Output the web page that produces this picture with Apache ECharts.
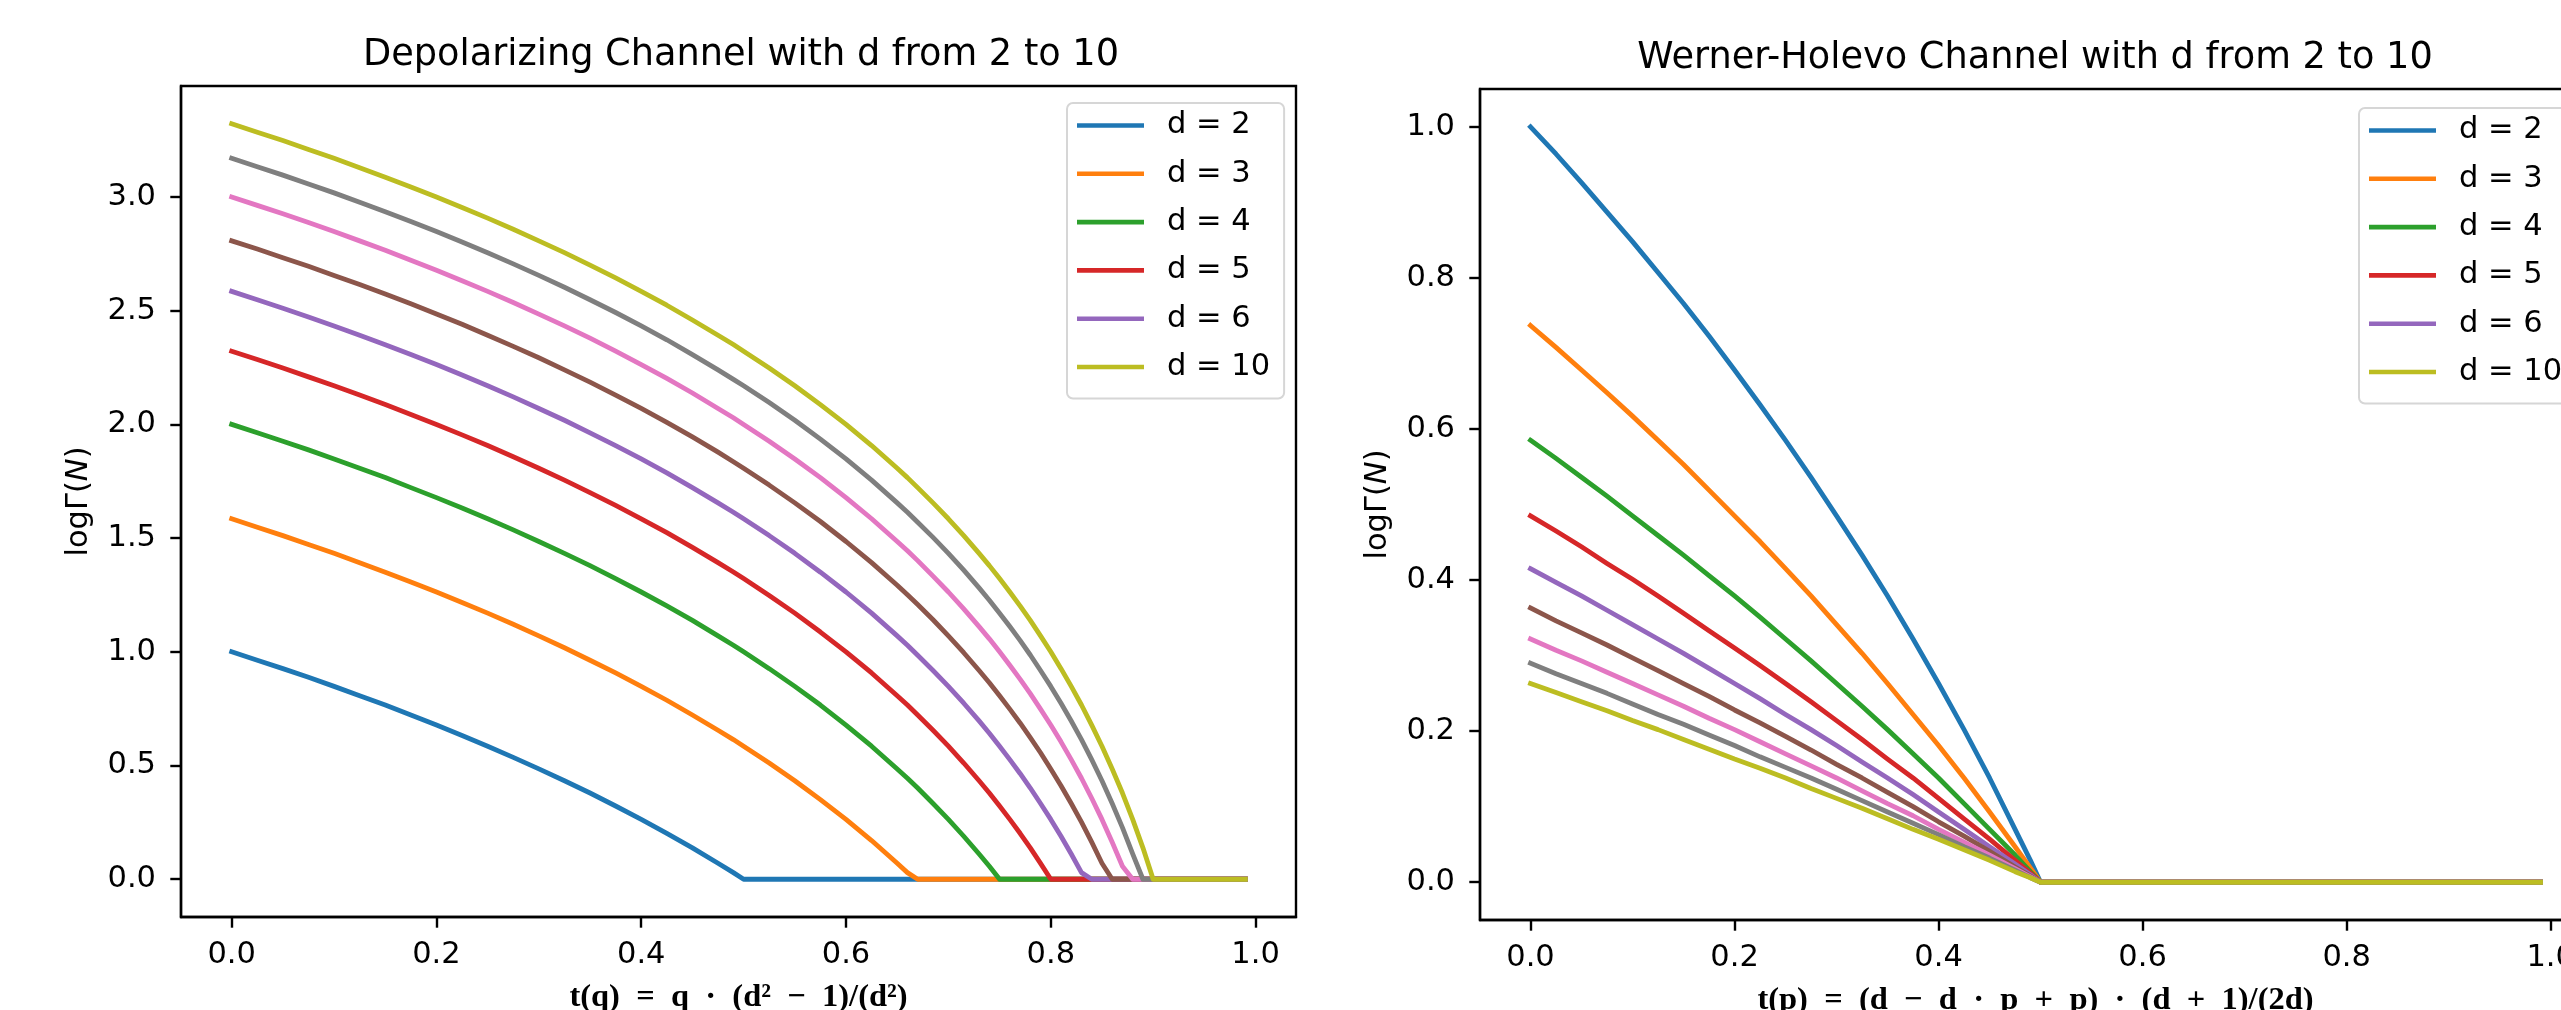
<!DOCTYPE html>
<html>
<head>
<meta charset="utf-8">
<title>Depolarizing / Werner-Holevo</title>
<script src="https://cdn.jsdelivr.net/npm/echarts@6/dist/echarts.min.js"></script>
<style>
    html, body { margin: 0; padding: 0; background: #fff; }
    #main { width: 2561px; height: 1010px; }
</style>
</head>
<body>
<div id="main"></div>
<script>
// sample points along t
var depolT = [0, 0.025, 0.05, 0.075, 0.1, 0.125, 0.15, 0.175, 0.2, 0.225,
    0.25, 0.275, 0.3, 0.325, 0.35, 0.375, 0.4, 0.425, 0.45, 0.475,
    0.49, 0.5, 0.525, 0.55, 0.575, 0.6, 0.625, 0.65, 0.66, 0.67,
    0.685, 0.7, 0.715, 0.73, 0.74, 0.75, 0.76, 0.77, 0.78, 0.79,
    0.8, 0.81, 0.82, 0.83, 0.84, 0.85, 0.86, 0.87, 0.88, 0.89,
    0.9, 0.99];
var depolD2 = [1.000, 0.963, 0.926, 0.888, 0.848, 0.807, 0.766, 0.722, 0.678, 0.632,
    0.585, 0.536, 0.485, 0.433, 0.379, 0.322, 0.263, 0.202, 0.138, 0.070,
    0.029, 0, 0, 0, 0, 0, 0, 0, 0, 0,
    0, 0, 0, 0, 0, 0, 0, 0, 0, 0,
    0, 0, 0, 0, 0, 0, 0, 0, 0, 0,
    0, 0];
var depolD3 = [1.585, 1.548, 1.511, 1.472, 1.433, 1.392, 1.350, 1.307, 1.263, 1.217,
    1.170, 1.121, 1.070, 1.018, 0.963, 0.907, 0.848, 0.787, 0.722, 0.655,
    0.614, 0.585, 0.511, 0.433, 0.350, 0.263, 0.170, 0.070, 0.029, 0,
    0, 0, 0, 0, 0, 0, 0, 0, 0, 0,
    0, 0, 0, 0, 0, 0, 0, 0, 0, 0,
    0, 0];
var depolD4 = [2.000, 1.963, 1.926, 1.888, 1.848, 1.807, 1.766, 1.722, 1.678, 1.632,
    1.585, 1.536, 1.485, 1.433, 1.379, 1.322, 1.263, 1.202, 1.138, 1.070,
    1.029, 1.000, 0.926, 0.848, 0.766, 0.678, 0.585, 0.485, 0.444, 0.401,
    0.333, 0.263, 0.189, 0.111, 0.057, 0, 0, 0, 0, 0,
    0, 0, 0, 0, 0, 0, 0, 0, 0, 0,
    0, 0];
var depolD5 = [2.322, 2.285, 2.248, 2.209, 2.170, 2.129, 2.087, 2.044, 2.000, 1.954,
    1.907, 1.858, 1.807, 1.755, 1.700, 1.644, 1.585, 1.524, 1.459, 1.392,
    1.351, 1.322, 1.248, 1.170, 1.087, 1.000, 0.907, 0.807, 0.766, 0.722,
    0.655, 0.585, 0.511, 0.433, 0.379, 0.322, 0.263, 0.202, 0.138, 0.070,
    0, 0, 0, 0, 0, 0, 0, 0, 0, 0,
    0, 0];
var depolD6 = [2.585, 2.548, 2.511, 2.472, 2.433, 2.392, 2.350, 2.307, 2.263, 2.217,
    2.170, 2.121, 2.070, 2.018, 1.963, 1.907, 1.848, 1.787, 1.722, 1.655,
    1.614, 1.585, 1.511, 1.433, 1.350, 1.263, 1.170, 1.070, 1.029, 0.985,
    0.918, 0.848, 0.774, 0.696, 0.642, 0.585, 0.526, 0.465, 0.401, 0.333,
    0.263, 0.189, 0.111, 0.029, 0, 0, 0, 0, 0, 0,
    0, 0];
var depolD7 = [2.807, 2.771, 2.733, 2.695, 2.655, 2.615, 2.573, 2.530, 2.485, 2.440,
    2.392, 2.343, 2.293, 2.240, 2.186, 2.129, 2.070, 2.009, 1.945, 1.878,
    1.836, 1.807, 1.733, 1.655, 1.573, 1.485, 1.392, 1.293, 1.251, 1.208,
    1.141, 1.070, 0.996, 0.918, 0.864, 0.807, 0.748, 0.687, 0.623, 0.556,
    0.485, 0.411, 0.333, 0.251, 0.163, 0.070, 0, 0, 0, 0,
    0, 0];
var depolD8 = [3.000, 2.963, 2.926, 2.888, 2.848, 2.807, 2.766, 2.722, 2.678, 2.632,
    2.585, 2.536, 2.485, 2.433, 2.379, 2.322, 2.263, 2.202, 2.138, 2.070,
    2.029, 2.000, 1.926, 1.848, 1.766, 1.678, 1.585, 1.485, 1.444, 1.401,
    1.333, 1.263, 1.189, 1.111, 1.057, 1.000, 0.941, 0.880, 0.816, 0.748,
    0.678, 0.604, 0.526, 0.444, 0.356, 0.263, 0.163, 0.057, 0, 0,
    0, 0];
var depolD9 = [3.170, 3.133, 3.096, 3.057, 3.018, 2.977, 2.935, 2.892, 2.848, 2.802,
    2.755, 2.706, 2.655, 2.603, 2.548, 2.492, 2.433, 2.372, 2.307, 2.240,
    2.198, 2.170, 2.096, 2.018, 1.935, 1.848, 1.755, 1.655, 1.614, 1.570,
    1.503, 1.433, 1.359, 1.281, 1.227, 1.170, 1.111, 1.050, 0.986, 0.918,
    0.848, 0.774, 0.696, 0.614, 0.526, 0.433, 0.333, 0.227, 0.111, 0,
    0, 0];
var depolD10 = [3.322, 3.285, 3.248, 3.209, 3.170, 3.129, 3.087, 3.044, 3.000, 2.954,
    2.907, 2.858, 2.807, 2.755, 2.700, 2.644, 2.585, 2.524, 2.459, 2.392,
    2.351, 2.322, 2.248, 2.170, 2.087, 2.000, 1.907, 1.807, 1.766, 1.722,
    1.655, 1.585, 1.511, 1.433, 1.379, 1.322, 1.263, 1.202, 1.138, 1.070,
    1.000, 0.926, 0.848, 0.766, 0.678, 0.585, 0.485, 0.379, 0.263, 0.138,
    0, 0];

var wernerT = [0, 0.025, 0.05, 0.075, 0.1, 0.125, 0.15, 0.175, 0.2, 0.225,
    0.25, 0.275, 0.3, 0.325, 0.35, 0.375, 0.4, 0.425, 0.45, 0.475,
    0.49, 0.5, 0.99];
var wernerD2 = [1.000, 0.964, 0.926, 0.887, 0.848, 0.807, 0.766, 0.723, 0.678, 0.632,
    0.585, 0.536, 0.485, 0.433, 0.379, 0.322, 0.263, 0.202, 0.138, 0.070,
    0.029, 0, 0];
var wernerD3 = [0.737, 0.708, 0.678, 0.648, 0.617, 0.585, 0.553, 0.519, 0.485, 0.451,
    0.415, 0.379, 0.341, 0.303, 0.263, 0.222, 0.181, 0.138, 0.093, 0.047,
    0.019, 0, 0];
var wernerD4 = [0.585, 0.561, 0.536, 0.511, 0.485, 0.459, 0.433, 0.406, 0.379, 0.351,
    0.322, 0.293, 0.263, 0.233, 0.202, 0.170, 0.138, 0.104, 0.070, 0.036,
    0.014, 0, 0];
var wernerD5 = [0.485, 0.465, 0.444, 0.422, 0.401, 0.379, 0.356, 0.333, 0.310, 0.287,
    0.263, 0.239, 0.214, 0.189, 0.163, 0.138, 0.111, 0.084, 0.057, 0.029,
    0.012, 0, 0];
var wernerD6 = [0.415, 0.397, 0.379, 0.360, 0.341, 0.322, 0.303, 0.283, 0.263, 0.243,
    0.222, 0.202, 0.181, 0.159, 0.138, 0.116, 0.093, 0.070, 0.047, 0.024,
    0.010, 0, 0];
var wernerD7 = [0.363, 0.346, 0.330, 0.314, 0.297, 0.280, 0.263, 0.246, 0.228, 0.211,
    0.193, 0.175, 0.156, 0.138, 0.119, 0.100, 0.080, 0.061, 0.041, 0.020,
    0.008, 0, 0];
var wernerD8 = [0.322, 0.307, 0.293, 0.278, 0.263, 0.248, 0.233, 0.217, 0.202, 0.186,
    0.170, 0.154, 0.138, 0.121, 0.104, 0.088, 0.070, 0.053, 0.036, 0.018,
    0.007, 0, 0];
var wernerD9 = [0.290, 0.276, 0.263, 0.250, 0.236, 0.222, 0.209, 0.195, 0.181, 0.166,
    0.152, 0.138, 0.123, 0.108, 0.093, 0.078, 0.063, 0.047, 0.032, 0.016,
    0.006, 0, 0];
var wernerD10 = [0.263, 0.251, 0.239, 0.227, 0.214, 0.202, 0.189, 0.176, 0.163, 0.151,
    0.138, 0.124, 0.111, 0.098, 0.084, 0.070, 0.057, 0.043, 0.029, 0.014,
    0.006, 0, 0];

var dNames = ['d = 2', 'd = 3', 'd = 4', 'd = 5', 'd = 6', 'd = 7', 'd = 8', 'd = 9', 'd = 10'];
var legendNames = ['d = 2', 'd = 3', 'd = 4', 'd = 5', 'd = 6', 'd = 10'];   // d=7..9 are not in the legend
var xTicks = [0, 0.2, 0.4, 0.6, 0.8, 1.0];
var depolYTicks = [0, 0.5, 1.0, 1.5, 2.0, 2.5, 3.0];
var wernerYTicks = [0, 0.2, 0.4, 0.6, 0.8, 1.0];

(function () {
    var chart = echarts.init(document.getElementById('main'), null, {renderer: 'canvas'});
    var colors = ['#1f77b4', '#ff7f0e', '#2ca02c', '#d62728', '#9467bd', '#8c564b', '#e377c2', '#7f7f7f', '#bcbd22'];
    var font = 'DejaVu Sans';
    var depolAll = [depolD2, depolD3, depolD4, depolD5, depolD6, depolD7, depolD8, depolD9, depolD10];
    var wernerAll = [wernerD2, wernerD3, wernerD4, wernerD5, wernerD6, wernerD7, wernerD8, wernerD9, wernerD10];

    function pairs(xs, ys) {
        return xs.map(function (x, i) { return [x, ys[i]]; });
    }

    function xAxis(idx, name) {
        return {
            type: 'value', gridIndex: idx,
            min: -0.0495, max: 1.0395,
            axisLine: {show: true, onZero: false, lineStyle: {color: '#000', width: 2.4}},
            axisTick: {show: true, customValues: xTicks, length: 10.7, lineStyle: {color: '#000', width: 2.4}},
            axisLabel: {
                customValues: xTicks, margin: 23, color: '#000', fontSize: 30.5, fontFamily: font,
                formatter: function (v) { return v.toFixed(1); }
            },
            splitLine: {show: false},
            name: name, nameLocation: 'middle', nameGap: 64,
            nameTextStyle: {fontFamily: 'Liberation Serif', fontWeight: 'bold', fontSize: 32.5, color: '#000'}
        };
    }

    function yAxis(idx, min, max, ticks) {
        return {
            type: 'value', gridIndex: idx, min: min, max: max,
            axisLine: {show: true, onZero: false, lineStyle: {color: '#000', width: 2.4}},
            axisTick: {show: true, customValues: ticks, length: 10.7, lineStyle: {color: '#000', width: 2.4}},
            axisLabel: {
                customValues: ticks, margin: 25, color: '#000', fontSize: 30.5, fontFamily: font,
                formatter: function (v) { return v.toFixed(1); }
            },
            splitLine: {show: false},
            name: 'logΓ({i|N})', nameLocation: 'middle', nameGap: 86, nameRotate: 90,
            nameTextStyle: {
                fontFamily: font, fontSize: 30.5, color: '#000',
                rich: {i: {fontFamily: font, fontSize: 30.5, fontStyle: 'italic', color: '#000'}}
            }
        };
    }

    function legend(left, top) {
        return {
            show: true, orient: 'vertical', left: left, top: top,
            data: legendNames, icon: 'rect', itemWidth: 67, itemHeight: 4.6, itemGap: 17.3,
            padding: [7, 14, 16, 10],
            backgroundColor: 'rgba(255,255,255,0.8)', borderColor: '#d6d6d6', borderWidth: 2, borderRadius: 6,
            selectedMode: false,
            textStyle: {fontFamily: font, fontSize: 30.5, color: '#000', lineHeight: 30, padding: [0, 0, 0, 18]}
        };
    }

    var series = [];
    dNames.forEach(function (n, i) {
        series.push({
            name: n, type: 'line', xAxisIndex: 0, yAxisIndex: 0,
            data: pairs(depolT, depolAll[i]), symbol: 'none', showSymbol: false,
            color: colors[i], lineStyle: {width: 4.8, color: colors[i], cap: 'square', join: 'round'},
            emphasis: {disabled: true}
        });
    });
    dNames.forEach(function (n, i) {
        series.push({
            name: n, type: 'line', xAxisIndex: 1, yAxisIndex: 1,
            data: pairs(wernerT, wernerAll[i]), symbol: 'none', showSymbol: false,
            color: colors[i], lineStyle: {width: 4.8, color: colors[i], cap: 'square', join: 'round'},
            emphasis: {disabled: true}
        });
    });

    var option = {
        backgroundColor: '#fff',
        animation: false,
        title: [
            {text: 'Depolarizing Channel with d from 2 to 10', left: 741, top: 37, textAlign: 'center', padding: 0,
                textStyle: {fontFamily: font, fontSize: 36.7, fontWeight: 'normal', color: '#000'}},
            {text: 'Werner-Holevo Channel with d from 2 to 10', left: 2035, top: 40, textAlign: 'center', padding: 0,
                textStyle: {fontFamily: font, fontSize: 36.7, fontWeight: 'normal', color: '#000'}}
        ],
        grid: [
            {left: 181, top: 86, width: 1115, height: 831, containLabel: false, outerBoundsMode: 'none',
                show: true, borderColor: '#000', borderWidth: 2.4, backgroundColor: 'transparent'},
            {left: 1480, top: 89, width: 1111, height: 831, containLabel: false, outerBoundsMode: 'none',
                show: true, borderColor: '#000', borderWidth: 2.4, backgroundColor: 'transparent'}
        ],
        legend: [legend(1067, 103), legend(2359, 108)],
        xAxis: [
            xAxis(0, 't(q)  =  q  ·  (d²  −  1)/(d²)'),
            xAxis(1, 't(p)  =  (d  −  d  ·  p  +  p)  ·  (d  +  1)/(2d)')
        ],
        yAxis: [
            yAxis(0, -0.1661, 3.488, depolYTicks),
            yAxis(1, -0.05, 1.05, wernerYTicks)
        ],
        series: series
    };
    chart.setOption(option);

    window.addEventListener('resize', function () {
        chart.resize();
    });
}());
</script>
</body>
</html>
